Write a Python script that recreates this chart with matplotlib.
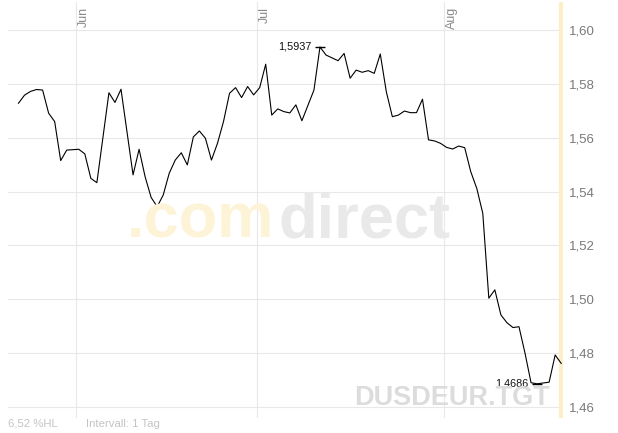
import pandas as pd
import matplotlib
matplotlib.use("Agg")
import matplotlib.pyplot as plt
import matplotlib.dates as mdates
from matplotlib.ticker import FuncFormatter, FixedLocator

# daily values (only the days where the line changes direction)
dates = [
    "2008-05-22", "2008-05-23", "2008-05-24", "2008-05-25", "2008-05-26",
    "2008-05-27", "2008-05-28", "2008-05-29", "2008-05-30", "2008-06-01",
    "2008-06-02", "2008-06-03", "2008-06-04", "2008-06-06", "2008-06-07",
    "2008-06-08", "2008-06-10", "2008-06-11", "2008-06-12", "2008-06-13",
    "2008-06-14", "2008-06-15", "2008-06-16", "2008-06-17", "2008-06-18",
    "2008-06-19", "2008-06-20", "2008-06-21", "2008-06-22", "2008-06-23",
    "2008-06-24", "2008-06-25", "2008-06-26", "2008-06-27", "2008-06-28",
    "2008-06-29", "2008-06-30", "2008-07-01", "2008-07-02", "2008-07-03",
    "2008-07-04", "2008-07-05", "2008-07-06", "2008-07-07", "2008-07-08",
    "2008-07-10", "2008-07-11", "2008-07-12", "2008-07-14", "2008-07-15",
    "2008-07-16", "2008-07-17", "2008-07-18", "2008-07-19", "2008-07-20",
    "2008-07-21", "2008-07-22", "2008-07-23", "2008-07-24", "2008-07-25",
    "2008-07-26", "2008-07-27", "2008-07-28", "2008-07-29", "2008-07-30",
    "2008-07-31", "2008-08-01", "2008-08-02", "2008-08-03", "2008-08-04",
    "2008-08-05", "2008-08-06", "2008-08-07", "2008-08-08", "2008-08-09",
    "2008-08-10", "2008-08-11", "2008-08-12", "2008-08-13", "2008-08-14",
    "2008-08-15", "2008-08-16", "2008-08-18", "2008-08-19", "2008-08-20",
]
values = [
    1.5728, 1.5758, 1.5772, 1.5779, 1.5777,
    1.5691, 1.5660, 1.5515, 1.5554, 1.5557,
    1.5540, 1.5449, 1.5433, 1.5767, 1.5731,
    1.5780, 1.5462, 1.5557, 1.5455, 1.5378,
    1.5344, 1.5387, 1.5468, 1.5517, 1.5544,
    1.5499, 1.5603, 1.5625, 1.5598, 1.5517,
    1.5579, 1.5660, 1.5765, 1.5786, 1.5749,
    1.5790, 1.5759, 1.5786, 1.5873, 1.5684,
    1.5707, 1.5697, 1.5692, 1.5722, 1.5663,
    1.5777, 1.5937, 1.5907, 1.5886, 1.5913,
    1.5821, 1.5851, 1.5843, 1.5849, 1.5839,
    1.5911, 1.5771, 1.5678, 1.5684, 1.5699,
    1.5693, 1.5693, 1.5743, 1.5592, 1.5588,
    1.5579, 1.5564, 1.5558, 1.5569, 1.5563,
    1.5474, 1.5412, 1.5319, 1.5004, 1.5035,
    1.4942, 1.4913, 1.4895, 1.4898, 1.4800,
    1.4690, 1.4686, 1.4692, 1.4793, 1.4762,
]
y_ticks = [1.46, 1.48, 1.50, 1.52, 1.54, 1.56, 1.58, 1.60]
months = ["2008-06-01", "2008-07-01", "2008-08-01"]
month_labels = ["Jun", "Jul", "Aug"]

# points sit in the middle of their day
x = pd.to_datetime(dates) + pd.Timedelta(hours=11)
s = pd.Series(values, index=x)

fig = plt.figure(figsize=(6.18, 4.33), dpi=100)
ax = fig.add_axes([8 / 618, 1 - 418 / 433, 555 / 618, 416 / 433])

start = pd.Timestamp("2008-06-01")
ax.set_xlim(start - pd.Timedelta(days=11.28), start + pd.Timedelta(days=80.76))
ax.set_ylim(1.4559, 1.6104)

for side in ax.spines.values():
    side.set_visible(False)

# grid
ax.yaxis.set_major_locator(FixedLocator(y_ticks))
ax.xaxis.set_major_locator(FixedLocator(mdates.date2num(pd.to_datetime(months))))
ax.grid(True, color="#e8e8e8", linewidth=0.8)
ax.set_axisbelow(True)
ax.tick_params(axis="x", length=0, labelbottom=False)
ax.yaxis.tick_right()
ax.tick_params(axis="y", length=0, pad=4.5, labelsize=9.5, labelcolor="#7a7a7a")
ax.yaxis.set_major_formatter(FuncFormatter(lambda v, p: f"{v:.2f}".replace(".", ",")))
for lab in ax.get_yticklabels():
    lab.set_family("Liberation Sans")

# month labels at the top
for m, lab in zip(months, month_labels):
    ax.annotate(lab, xy=(pd.Timestamp(m), 1.6104), xytext=(1.5, -3.5), textcoords="offset points",
                rotation=90, ha="left", va="top", fontsize=9, color="#8a8a8a",
                family="Liberation Sans")

# watermark
fig.text(127 / 618, 1 - 238 / 433, ".com", fontsize=45.5, fontweight="bold", color="#fdf3d6",
         family="Liberation Sans", va="baseline", ha="left", zorder=0)
fig.text(450 / 618, 1 - 238 / 433, "direct", fontsize=45.5, fontweight="bold", color="#e9e9e9",
         family="Liberation Sans", va="baseline", ha="right", zorder=0)
ax.patch.set_alpha(0)
fig.text(550 / 618, 1 - 405 / 433, "DUSDEUR.TGT", fontsize=19.5, fontweight="bold",
         color="#dcdcdc", family="Liberation Sans", va="baseline", ha="right", zorder=0)

# last day marker
ax.axvline(s.index[-1], color="#fcefc8", linewidth=3, zorder=1)

# price line
ax.plot(s.index, s.values, color="black", linewidth=0.8, zorder=3)

# high / low labels
hi = s.idxmax()
lo = s.idxmin()
for d in (hi, lo):
    v = s[d]
    ax.plot([d], [v], marker="_", markersize=7.5, color="black", markeredgewidth=1.0, zorder=4)
    ax.annotate(f"{v:.4f}".replace(".", ","), xy=(d, v), xytext=(-6, 0), textcoords="offset points",
                ha="right", va="center", fontsize=7.8, color="#111111", family="Liberation Sans",
                zorder=5)

# footer
fig.text(8 / 618, 1 - 427 / 433, "6,52 %HL", fontsize=8.2, color="#c4c4c4",
         family="Liberation Sans", va="baseline")
fig.text(86 / 618, 1 - 427 / 433, "Intervall: 1 Tag", fontsize=8.2, color="#c4c4c4",
         family="Liberation Sans", va="baseline")

fig.savefig("out.png", dpi=100)
